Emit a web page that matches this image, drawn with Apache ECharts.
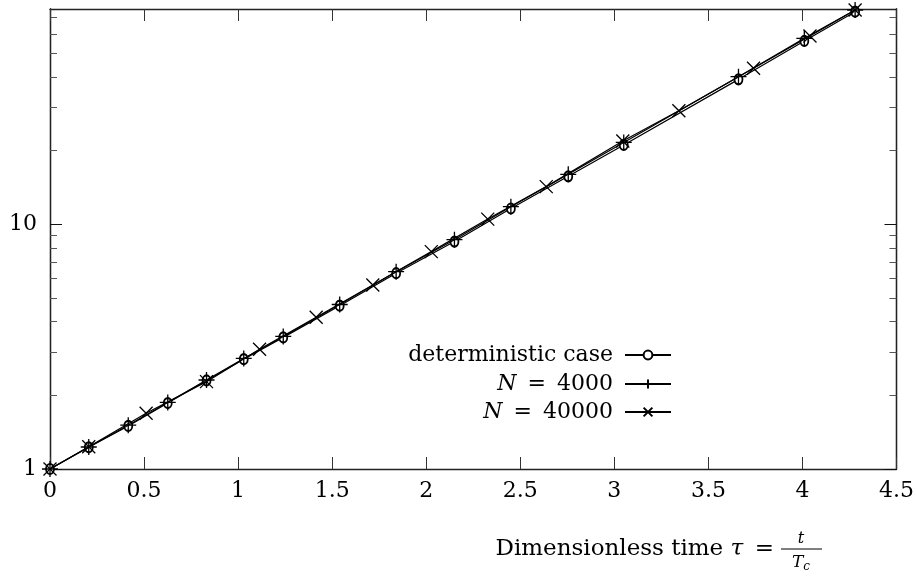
<!DOCTYPE html>
<html>
<head>
<meta charset="utf-8">
<script src="https://cdn.jsdelivr.net/npm/echarts@6/dist/echarts.min.js"></script>
<style>html,body{margin:0;padding:0;background:#fff;}#c{width:917px;height:581px;}</style>
</head>
<body>
<div id="c"></div>
<script>
// ---- data ----
var tauDet = [0, 0.206, 0.416, 0.626, 0.832, 1.03, 1.24, 1.54, 1.84, 2.15, 2.45, 2.755, 3.05, 3.66, 4.01, 4.28];
var detValues = [1, 1.227, 1.50, 1.86, 2.30, 2.81, 3.45, 4.65, 6.31, 8.50, 11.6, 15.7, 21.1, 39.1, 56.1, 73.9];
var n4000Values = [1, 1.23, 1.51, 1.87, 2.31, 2.83, 3.48, 4.70, 6.40, 8.65, 11.8, 16.0, 21.6, 40.1, 57.5, 75.1];
var tauN40000 = [0, 0.206, 0.511, 0.832, 1.114, 1.415, 1.716, 2.027, 2.327, 2.638, 3.045, 3.343, 3.74, 4.04, 4.28];
var n40000Values = [1, 1.233, 1.689, 2.275, 3.085, 4.17, 5.65, 7.73, 10.5, 14.25, 21.9, 29.1, 43.4, 58.8, 75.1];
var seriesNames = ['deterministic case', 'N = 4000', 'N = 40000'];
var xTickLabels = ['0', '0.5', '1', '1.5', '2', '2.5', '3', '3.5', '4', '4.5'];
var yMajorTicks = [1, 10];
var yMinorTicks = [2, 3, 4, 5, 6, 7, 8, 9, 20, 30, 40, 50, 60, 70];

function zip(xs, ys) { return xs.map(function (x, i) { return [x, ys[i]]; }); }

var FONT = '"DejaVu Serif", "Liberation Serif", serif';
var FS = 22;
var YMAX = 75.8;
var axisLineStyle = { color: '#222', width: 1.3 };

function yAxisDef(pos, major, showLabel) {
  return {
    type: 'log', logBase: 10, min: 1, max: YMAX, position: pos,
    axisLine: { show: true, lineStyle: axisLineStyle },
    axisTick: { show: true, inside: true, length: major ? 12 : 7,
      customValues: major ? yMajorTicks : yMinorTicks,
      lineStyle: { color: major ? '#111' : '#555', width: 1 } },
    axisLabel: { show: showLabel, customValues: yMajorTicks, fontFamily: FONT, fontSize: FS, color: '#000', margin: 13 },
    splitLine: { show: false }, minorTick: { show: false }
  };
}
function xAxisDef(pos, showLabel) {
  return {
    type: 'value', min: 0, max: 4.5, interval: 0.5, position: pos,
    axisLine: { show: true, onZero: false, lineStyle: axisLineStyle },
    axisTick: { show: true, inside: true, length: 12, lineStyle: { color: '#333', width: 1 } },
    axisLabel: { show: showLabel, fontFamily: FONT, fontSize: FS, color: '#000', margin: 11,
      formatter: function (v) { return xTickLabels[Math.round(v * 2)]; } },
    splitLine: { show: false }
  };
}

var plusPath = 'path://M5,0L5,10M0,5L10,5';
var crossPath = 'path://M0,0L10,10M10,0L0,10';
var lineStyle = { color: '#000', width: 1.2 };

var richLegend = {
  r: { fontFamily: FONT, fontSize: FS, color: '#000', lineHeight: 26 },
  i: { fontFamily: FONT, fontSize: FS, fontStyle: 'italic', color: '#000', lineHeight: 26 }
};
function legendFmt(name) {
  if (name.indexOf('N') === 0) return '{i|N}{r|\u2002=\u2002' + name.slice(4) + ' }';
  return '{r|' + name + ' }';
}
function legendDef(name, top) {
  return {
    data: [name], right: 245, top: top, align: 'right', orient: 'vertical', padding: 0,
    itemWidth: 46, itemHeight: 11, formatter: legendFmt,
    textStyle: { rich: richLegend }, selectedMode: false
  };
}

var chart = echarts.init(document.getElementById('c'), null, { renderer: 'canvas' });
chart.setOption({
  animation: false,
  backgroundColor: '#fff',
  grid: { left: 50, right: 20, top: 9, bottom: 112, containLabel: false },
  xAxis: [xAxisDef('bottom', true), xAxisDef('top', false)],
  yAxis: [yAxisDef('left', true, true), yAxisDef('left', false, false), yAxisDef('right', true, false), yAxisDef('right', false, false)],
  legend: [legendDef(seriesNames[0], 344), legendDef(seriesNames[1], 373), legendDef(seriesNames[2], 401)],
  series: [
    { name: seriesNames[0], type: 'line', data: zip(tauDet, detValues), symbol: 'emptyCircle', symbolSize: [8, 10], showAllSymbol: true,
      lineStyle: lineStyle, itemStyle: { color: '#000', borderColor: '#000', borderWidth: 1.1 }, z: 3 },
    { name: seriesNames[1], type: 'line', data: zip(tauDet, n4000Values), symbol: plusPath, symbolSize: 16, showAllSymbol: true,
      lineStyle: lineStyle, itemStyle: { color: 'rgba(0,0,0,0)', borderColor: '#000', borderWidth: 1.3 }, z: 4 },
    { name: seriesNames[2], type: 'line', data: zip(tauN40000, n40000Values), symbol: crossPath, symbolSize: 13, showAllSymbol: true,
      lineStyle: lineStyle, itemStyle: { color: 'rgba(0,0,0,0)', borderColor: '#000', borderWidth: 1.3 }, z: 4 }
  ],
  graphic: [
    { type: 'text', x: 774, y: 549, style: { text: '{a|Dimensionless time }{i|τ}{a|\u2002=}', textAlign: 'right', textVerticalAlign: 'middle',
      rich: { a: { fontFamily: FONT, fontSize: 23, fill: '#000' }, i: { fontFamily: FONT, fontSize: 23, fontStyle: 'italic', fill: '#000' } } } },
    { type: 'text', x: 801, y: 539, style: { text: 't', textAlign: 'center', textVerticalAlign: 'middle', fontFamily: FONT, fontSize: 16, fontStyle: 'italic', fill: '#000' } },
    { type: 'line', shape: { x1: 781, y1: 549, x2: 822, y2: 549 }, style: { stroke: '#000', lineWidth: 1.2 } },
    { type: 'text', x: 801, y: 563, style: { text: '{t|T}{c|c}', textAlign: 'center', textVerticalAlign: 'middle',
      rich: { t: { fontFamily: FONT, fontSize: 17, fontStyle: 'italic', fill: '#000' }, c: { fontFamily: FONT, fontSize: 12, fontStyle: 'italic', fill: '#000', padding: [8, 0, 0, 0] } } } }
  ]
});
</script>
</body>
</html>
